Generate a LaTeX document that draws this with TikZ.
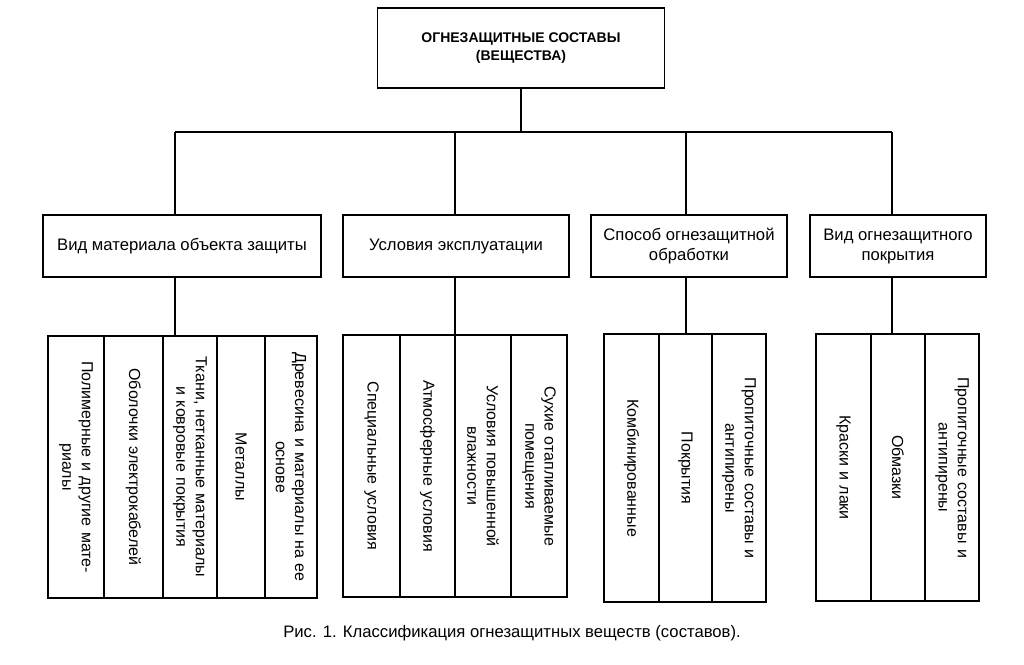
\documentclass[tikz,border=0pt]{standalone}
\usepackage{fontspec}
\setmainfont{Liberation Sans}
\tikzset{
  box/.style={draw, line width=1.1pt, align=center, font=\fontsize{12.5}{15}\selectfont, inner sep=2pt},
  cellbox/.style={box, font=\fontsize{12}{14.5}\selectfont},
  conn/.style={line width=1.1pt},
}
\newcommand{\mycell}[6]{%
  \node[cellbox, rotate=-90, anchor=center, minimum width={(#5-#4)*0.75pt}, minimum height={(#3-#2)*0.75pt},
    text width={(#5-#4)*0.75pt-14pt}] (#1) at ({(#2+#3)/2},{(#4+#5)/2}) {#6};}
\begin{document}
\begin{tikzpicture}[x=0.75pt,y=-0.75pt]
\useasboundingbox (0,0) rectangle (1024,664);
\node[box, font=\bfseries\fontsize{10.5}{14}\selectfont, minimum width=215pt, minimum height=60pt] (top) at (521,48) {ОГНЕЗАЩИТНЫЕ СОСТАВЫ\\(ВЕЩЕСТВА)};
\node[box, minimum width=208.5pt, minimum height=46.5pt] (b1) at (182,246) {Вид материала объекта защиты};
\node[box, minimum width=169.5pt, minimum height=46.5pt] (b2) at (456,246) {Условия эксплуатации};
\node[box, minimum width=147pt, minimum height=46.5pt] (b3) at (689,246) {Способ огнезащитной\\обработки};
\node[box, minimum width=132pt, minimum height=46.5pt] (b4) at (898,246) {Вид огнезащитного\\покрытия};
\coordinate (v1) at (175,132); \coordinate (v2) at (455,132);
\coordinate (v3) at (686,132); \coordinate (v4) at (892,132);
\coordinate (t1) at (175,336); \coordinate (t2) at (455,335);
\coordinate (t3) at (686,334); \coordinate (t4) at (892,334);
\draw[conn] (top.south) -- (top.south |- v1);
\draw[conn] (v1) -- (v4);
\foreach \i in {1,...,4}{\draw[conn] (v\i) -- (b\i.north -| v\i); \draw[conn] (b\i.south -| v\i) -- (t\i);}
\mycell{c11}{48}{104}{336}{598}{Полимерные и другие мате-\\риалы}
\mycell{c12}{104}{163}{336}{598}{Оболочки электрокабелей}
\mycell{c13}{163}{217}{336}{598}{Ткани, нетканные материалы\\и ковровые покрытия}
\mycell{c14}{217}{265}{336}{598}{Металлы}
\mycell{c15}{265}{317}{336}{598}{Древесина и материалы на ее\\основе}
\mycell{c21}{343}{400}{335}{597}{Специальные условия}
\mycell{c22}{400}{455}{335}{597}{Атмосферные условия}
\mycell{c23}{455}{511}{335}{597}{Условия повышенной\\влажности}
\mycell{c24}{511}{567}{335}{597}{Сухие отапливаемые\\помещения}
\mycell{c31}{604}{659}{334}{602}{Комбинированные}
\mycell{c32}{659}{712}{334}{602}{Покрытия}
\mycell{c33}{712}{766}{334}{602}{Пропиточные составы и\\антипирены}
\mycell{c41}{816}{871}{334}{601}{Краски и лаки}
\mycell{c42}{871}{925}{334}{601}{Обмазки}
\mycell{c43}{925}{979}{334}{601}{Пропиточные составы и\\антипирены}
\node[font=\fontsize{12.5}{14}\selectfont] (cap) at (512,633) {Рис. 1. Классификация огнезащитных веществ (составов).};
\end{tikzpicture}
\end{document}
